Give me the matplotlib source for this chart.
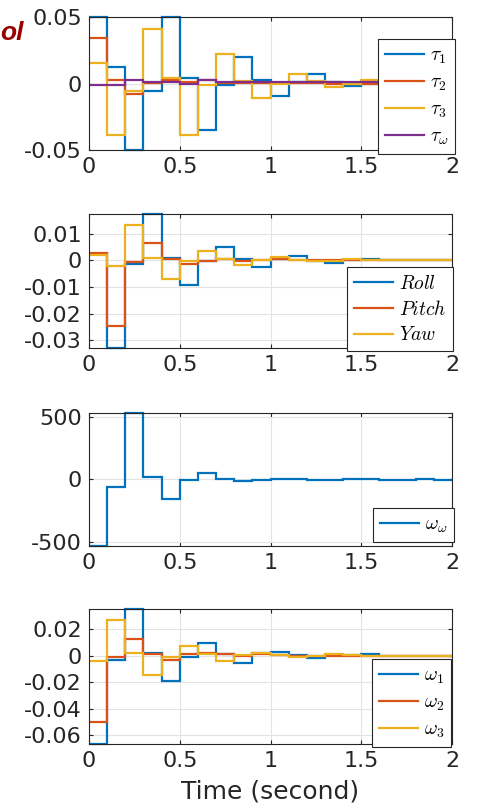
import numpy as np
import matplotlib
matplotlib.use("Agg")
import matplotlib.pyplot as plt

plt.rcParams['font.family'] = ['DejaVu Sans']
plt.rcParams['mathtext.fontset'] = 'cm'

# time edges (sample period 0.1 s)
t_edges = np.round(np.arange(0, 2.0001, 0.1), 2)

# Panel 1: control torques
tau1 = [0.05, 0.0125, -0.05, -0.0055, 0.05, 0.0045, -0.035, -0.0012, 0.02, 0.0025,
        -0.0095, 0.001, 0.0068, 0.001, -0.002, 0.0, 0.0, 0.0, 0.0, 0.0]
tau2 = [0.034, 0.0025, -0.008, 0.0005, 0.003, 0.001, 0.0025, 0.0005, 0.0005, 0.0003,
        0.0002, 0.0003, 0.0002, 0.0, 0.0, 0.0, 0.0, 0.0, 0.0, 0.0]
tau3 = [0.0155, -0.039, -0.006, 0.041, 0.004, -0.039, -0.001, 0.022, 0.002, -0.011,
        0.0, 0.0075, 0.002, -0.0025, 0.0, 0.003, 0.001, 0.0, 0.0, 0.0]
tauw = [-0.001, -0.001, 0.003, 0.001, 0.001, -0.0005, 0.003, 0.001, 0.001, 0.001,
        0.001, 0.001, 0.001, 0.001, 0.001, 0.001, 0.001, 0.001, 0.001, 0.001]

# Panel 2: attitude
roll = [0.0025, -0.033, -0.0013, 0.0175, 0.0009, -0.0094, -0.0004, 0.0049, 0.0005, -0.0026,
        0.0005, 0.0017, -0.0001, -0.0008, 0.0002, 0.0005, 0.0, 0.0, 0.0, 0.0]
pitch = [0.0028, -0.0248, -0.0006, 0.0065, 0.0005, -0.0014, -0.0001, 0.0005, -0.0002, 0.0,
         0.0005, 0.0001, 0.0, 0.0, 0.0, 0.0, 0.0, 0.0, 0.0, 0.0]
yaw = [0.0019, -0.0022, 0.0134, 0.0009, -0.007, -0.0004, 0.0037, 0.0005, -0.0018, 0.0,
       0.0012, 0.0002, -0.0004, -0.0001, 0.0005, 0.0, 0.0, 0.0, 0.0, 0.0]

# Panel 3: wheel speed
omega_w = [-532, -64, 535, 21, -158, -3, 53, 5, -11, -3,
           5, 5, -5, -5, 4, 4, -4, -4, 4, -2]

# Panel 4: angular rates
omega1 = [-0.0668, -0.0033, 0.0353, 0.0018, -0.019, -0.0013, 0.0098, 0.001, -0.0053, 0.0018,
          0.003, 0.0005, -0.002, 0.0005, 0.0005, 0.001, 0.0, 0.0, 0.0, 0.0]
omega2 = [-0.0504, -0.0013, 0.0129, 0.0013, -0.0033, 0.001, 0.0018, 0.001, 0.0, 0.0013,
          0.0003, 0.0, 0.0, 0.0, 0.0, 0.0, 0.0, 0.0, 0.0, 0.0]
omega3 = [-0.0043, 0.027, 0.0023, -0.0144, -0.0008, 0.0076, 0.0013, -0.0038, 0.0005, 0.0023,
          0.0005, -0.0008, -0.0003, 0.001, 0.0005, 0.0, 0.0, 0.0, 0.0, 0.0]

xticks = [0, 0.5, 1, 1.5, 2]
xticklabels = ['0', '0.5', '1', '1.5', '2']

C_BLUE = '#0072BD'
C_ORANGE = '#D95319'
C_YELLOW = '#EDB120'
C_PURPLE = '#7E2F8E'

W, H = 482, 811
fig = plt.figure(figsize=(W / 100, H / 100), dpi=100)

def ax_rect(top, bottom, left=89, right=452):
    return [left / W, 1 - bottom / H, (right - left) / W, (bottom - top) / H]

panels = [
    dict(rect=ax_rect(17, 150), series=[(tau1, C_BLUE, r'$\tau_1$'), (tau2, C_ORANGE, r'$\tau_2$'),
                                         (tau3, C_YELLOW, r'$\tau_3$'), (tauw, C_PURPLE, r'$\tau_\omega$')],
         ylim=(-0.05, 0.05), yticks=[-0.05, 0, 0.05], yticklabels=['-0.05', '0', '0.05'],
         leg=(378, 39)),
    dict(rect=ax_rect(214, 348), series=[(roll, C_BLUE, r'$Roll$'), (pitch, C_ORANGE, r'$Pitch$'),
                                          (yaw, C_YELLOW, r'$Yaw$')],
         ylim=(-0.033, 0.0175), yticks=[-0.03, -0.02, -0.01, 0, 0.01],
         yticklabels=['-0.03', '-0.02', '-0.01', '0', '0.01'], leg=(347, 267)),
    dict(rect=ax_rect(412.7, 545.7), series=[(omega_w, C_BLUE, r'$\omega_\omega$')],
         ylim=(-532, 535), yticks=[-500, 0, 500], yticklabels=['-500', '0', '500'],
         leg=(373, 508)),
    dict(rect=ax_rect(609, 744), series=[(omega1, C_BLUE, r'$\omega_1$'), (omega2, C_ORANGE, r'$\omega_2$'),
                                          (omega3, C_YELLOW, r'$\omega_3$')],
         ylim=(-0.0668, 0.0353), yticks=[-0.06, -0.04, -0.02, 0, 0.02],
         yticklabels=['-0.06', '-0.04', '-0.02', '0', '0.02'], leg=(372, 659)),
]

axes_color = '#262626'
for i, p in enumerate(panels):
    ax = fig.add_axes(p['rect'])
    for vals, col, lab in p['series']:
        ax.stairs(vals, t_edges, color=col, lw=1.6, label=lab, baseline=None, clip_on=False)
    ax.set_xlim(0, 2)
    ax.set_ylim(*p['ylim'])
    ax.set_xticks(xticks)
    ax.set_xticklabels(xticklabels)
    ax.set_yticks(p['yticks'])
    ax.set_yticklabels(p['yticklabels'])
    ax.grid(True, color='#e3e3e3', lw=0.8)
    ax.set_axisbelow(True)
    for s in ax.spines.values():
        s.set_color(axes_color)
        s.set_linewidth(0.8)
    ax.tick_params(direction='in', length=3, width=0.8, colors=axes_color,
                   labelsize=16, top=True, right=True, pad=5)
    lx, ly = p['leg']
    leg = ax.legend(loc='upper left', bbox_to_anchor=(lx / W, 1 - ly / H),
                    bbox_transform=fig.transFigure, borderaxespad=0, fontsize=14,
                    handlelength=2.0, handletextpad=0.3, labelspacing=0.35,
                    borderpad=0.35, fancybox=False, framealpha=1, edgecolor=axes_color)
    leg.get_frame().set_linewidth(0.8)
    if i == 3:
        ax.set_xlabel('Time (second)', fontsize=18, color=axes_color, labelpad=6)

fig.text(0 / W, 1 - 33 / H, 'ol', ha='left', va='center', fontsize=19,
         fontweight='bold', fontstyle='italic', color='#9b0000',
         family=['Liberation Sans', 'DejaVu Sans'])

fig.savefig('out.png', dpi=100)
